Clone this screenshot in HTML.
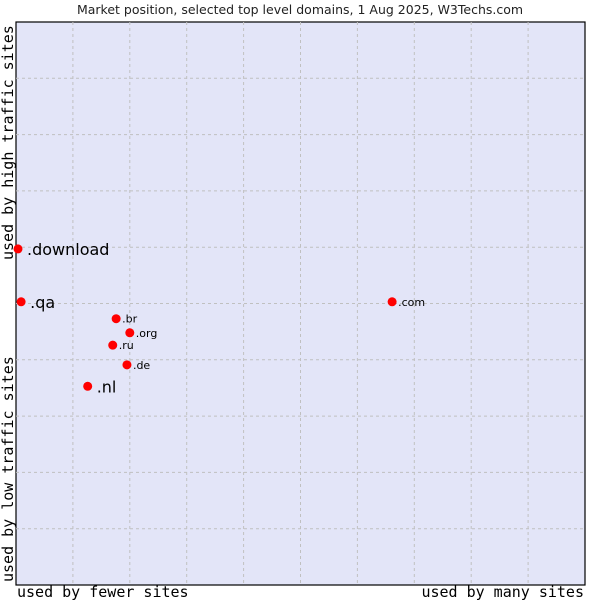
<!DOCTYPE html>
<html><head><meta charset="utf-8"><style>
body{margin:0;background:#fff;font-family:"DejaVu Sans","Liberation Sans",sans-serif}
</style></head><body>
<svg width="600" height="600" xmlns="http://www.w3.org/2000/svg">
<text x="300" y="14" text-anchor="middle" font-size="12.5" fill="#222" font-family="DejaVu Sans, sans-serif">Market position, selected top level domains, 1 Aug 2025, W3Techs.com</text>
<rect x="16" y="22" width="569" height="563" fill="#e3e5f8" stroke="#000" stroke-width="1.2"/>
<g id="grid"></g>
<g id="pts"></g>
<text x="17" y="597" font-size="15" font-family="DejaVu Sans Mono, monospace" fill="#000">used by fewer sites</text>
<text x="584" y="597" text-anchor="end" font-size="15" font-family="DejaVu Sans Mono, monospace" fill="#000">used by many sites</text>
<text transform="translate(13,582) rotate(-90)" font-size="15" font-family="DejaVu Sans Mono, monospace" fill="#000">used by low traffic sites</text>
<text transform="translate(13,260) rotate(-90)" font-size="15" font-family="DejaVu Sans Mono, monospace" fill="#000">used by high traffic sites</text>
</svg>
<script>
const labels=[".download",".qa",".com",".br",".org",".ru",".de",".nl"];
const xVals=[0.35,0.9,66.1,17.6,20.0,17.0,19.5,12.6];
const yVals=[59.7,50.3,50.3,47.3,44.8,42.6,39.1,35.3];
const bigLabel=[true,true,false,false,false,false,false,true];
const NS="http://www.w3.org/2000/svg";
const L=16,T=22,W=569,H=563;
const sx=v=>L+v/100*W, sy=v=>T+H-v/100*H;
const g=document.getElementById('grid');
for(let i=1;i<10;i++){
  const x=L+i*W/10,y=T+i*H/10;
  const a=document.createElementNS(NS,'line');
  
  
  a.setAttribute('x1',x);a.setAttribute('x2',x);a.setAttribute('y1',T);a.setAttribute('y2',T+H);
  a.setAttribute('stroke','#c0c0c0');a.setAttribute('stroke-dasharray','3,3');g.appendChild(a);
  const b=document.createElementNS(NS,'line');
  
  
  b.setAttribute('y1',y);b.setAttribute('y2',y);b.setAttribute('x1',L);b.setAttribute('x2',L+W);
  b.setAttribute('stroke','#c0c0c0');b.setAttribute('stroke-dasharray','3,3');g.appendChild(b);
}
const p=document.getElementById('pts');
labels.forEach((lb,i)=>{
  const x=sx(xVals[i]),y=sy(yVals[i]);
  const m=document.createElementNS(NS,'circle');
  
  
  m.setAttribute('cx',x);m.setAttribute('cy',y);m.setAttribute('r',4.5);m.setAttribute('fill','#f00');
  p.appendChild(m);
  const t=document.createElementNS(NS,'text');
  
  
  t.setAttribute('x',x+(bigLabel[i]?9:6));t.setAttribute('y',y+(bigLabel[i]?6:4));
  t.setAttribute('font-size',bigLabel[i]?16:11);t.setAttribute('fill','#000');
  t.textContent=lb;p.appendChild(t);
});
</script>
</body></html>
